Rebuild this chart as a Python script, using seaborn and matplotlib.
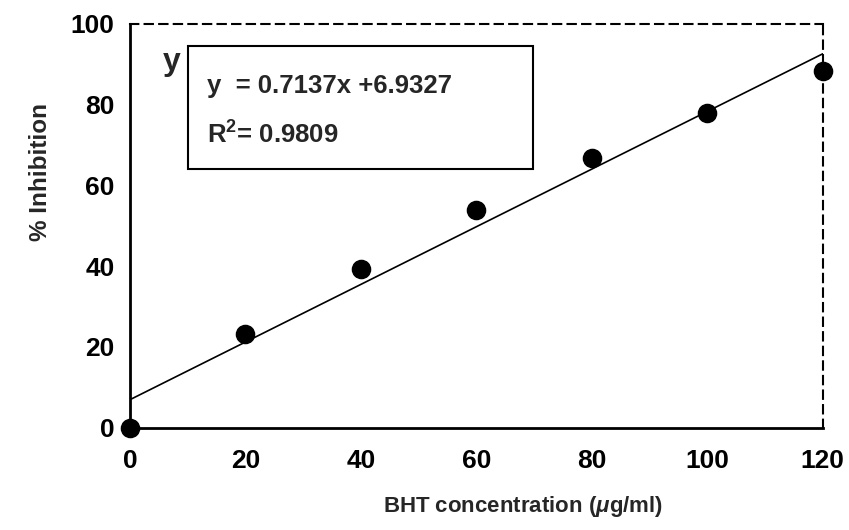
import numpy as np
import pandas as pd
import seaborn as sns
import matplotlib.pyplot as plt
from matplotlib.patches import Rectangle

# data
conc = [0, 20, 40, 60, 80, 100, 120]
inhibition = [0, 23.3, 39.3, 53.9, 66.9, 77.9, 88.3]
slope = 0.7137
intercept = 6.9327
r2 = 0.9809
xticks = [0, 20, 40, 60, 80, 100, 120]
yticks = [0, 20, 40, 60, 80, 100]

sns.set_theme(style="white")
plt.rcParams["font.family"] = ["Liberation Sans", "DejaVu Sans"]
plt.rcParams["font.weight"] = "bold"
plt.rcParams["mathtext.fontset"] = "custom"
plt.rcParams["mathtext.rm"] = "Liberation Sans:bold"
plt.rcParams["mathtext.it"] = "Liberation Sans:bold:italic"
plt.rcParams["mathtext.bf"] = "Liberation Sans:bold"

df = pd.DataFrame({"conc": conc, "inh": inhibition})
fit_x = np.array([xticks[0], xticks[-1]])
fit = pd.DataFrame({"x": fit_x, "y": slope * fit_x + intercept})

fig = plt.figure(figsize=(8.49, 5.30), dpi=100)
ax = fig.add_axes([0.153, 0.193, 0.816, 0.762])

sns.lineplot(data=fit, x="x", y="y", ax=ax, color="black", linewidth=1.2)
sns.scatterplot(data=df, x="conc", y="inh", ax=ax, color="black", s=170,
                edgecolor="black", zorder=5, clip_on=False)

ax.set_xlim(0, 120)
ax.set_ylim(0, 100)
ax.set_xticks(xticks)
ax.set_yticks(yticks)
ax.tick_params(axis="both", labelsize=19, colors="black", direction="out")
ax.tick_params(axis="x", length=6, width=1.2, pad=9)
ax.tick_params(axis="y", length=5, width=1.2, pad=6)
for lab in ax.get_xticklabels() + ax.get_yticklabels():
    lab.set_fontweight("bold")

for side in ["left", "bottom"]:
    ax.spines[side].set_color("black")
    ax.spines[side].set_linewidth(2)
for side in ["top", "right"]:
    ax.spines[side].set_color("black")
    ax.spines[side].set_linewidth(1.5)
    ax.spines[side].set_linestyle((0, (4, 3)))

ax.set_xlabel(r"BHT concentration ($\mu$g/ml)", fontsize=16, fontweight="bold")
ax.set_ylabel("% Inhibition", fontsize=17.5, fontweight="bold")
ax.xaxis.set_label_coords(0.568, -0.163)
ax.yaxis.set_label_coords(-0.112, 0.633)

# equation box
ax.text(0.047, 0.905, "y", transform=ax.transAxes, fontsize=23, fontweight="bold",
        va="center", ha="left", zorder=2)
ax.add_patch(Rectangle((0.0837, 0.640), 0.498, 0.3055, transform=ax.transAxes,
                       facecolor="white", edgecolor="black", linewidth=1.5, zorder=3))
ax.text(0.111, 0.845, f"y  = {slope}x +{intercept}", transform=ax.transAxes,
        fontsize=18.5, fontweight="bold", va="center", ha="left", zorder=4)
ax.text(0.111, 0.725, f"R$^2$= {r2}", transform=ax.transAxes,
        fontsize=18.5, fontweight="bold", va="center", ha="left", zorder=4)

fig.savefig("out.png", dpi=100)
